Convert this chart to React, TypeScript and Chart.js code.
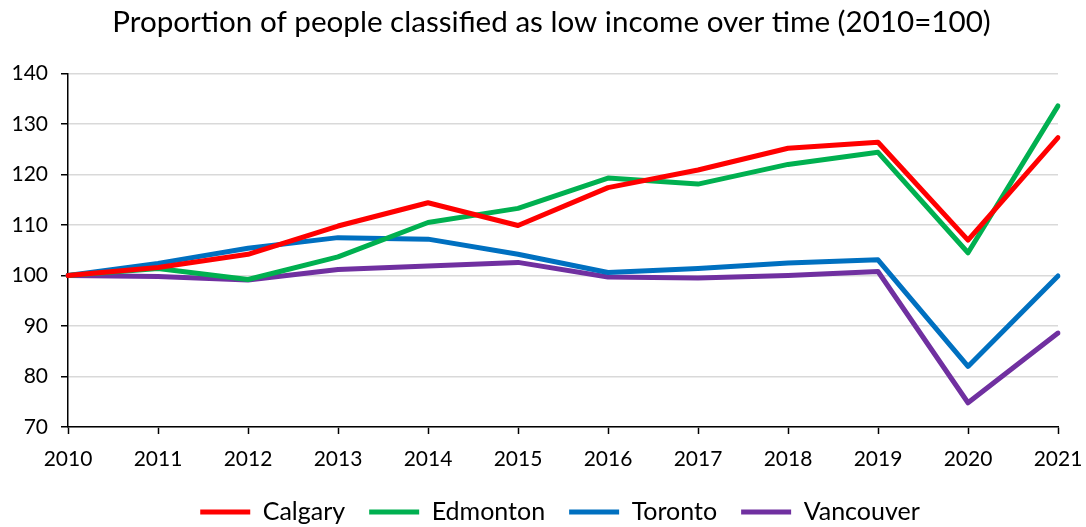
import React, { useEffect, useRef } from "react";
import { Chart, registerables } from "chart.js";

Chart.register(...registerables);

const years = ["2010","2011","2012","2013","2014","2015","2016","2017","2018","2019","2020","2021"];
const calgary = [100, 101.6, 104.2, 109.8, 114.4, 109.9, 117.4, 120.9, 125.2, 126.4, 107.0, 127.3];
const edmonton = [100, 101.4, 99.2, 103.7, 110.5, 113.3, 119.3, 118.1, 122.0, 124.4, 104.5, 133.6];
const toronto = [100, 102.4, 105.4, 107.5, 107.2, 104.2, 100.6, 101.4, 102.5, 103.1, 82.0, 99.9];
const vancouver = [100, 99.8, 99.1, 101.2, 101.9, 102.6, 99.7, 99.5, 100.0, 100.8, 74.8, 88.6];

const FONT = "Lato, 'Open Sans', sans-serif";

const shiftPlugin = {
  id: "shiftBlocks",
  afterLayout(chart: any) {
    const t = chart.titleBlock;
    if (t) { t.left += 18.5; t.right += 18.5; }
    const l = chart.legend;
    if (l) { l.left += 27; l.right += 27; }
  },
};

export default function App() {
  const ref = useRef<HTMLCanvasElement>(null);
  useEffect(() => {
    document.body.style.margin = "0";
    const ctx = ref.current!;
    const mk = (label: string, data: number[], color: string) => ({
      label,
      data,
      borderColor: color,
      backgroundColor: color,
      borderWidth: 5,
      borderCapStyle: "round" as const,
      borderJoinStyle: "round" as const,
      pointRadius: 0,
      tension: 0,
      fill: false,
    });
    const chart = new Chart(ctx, {
      type: "line",
      data: {
        labels: years,
        datasets: [
          mk("Calgary", calgary, "#FF0000"),
          mk("Edmonton", edmonton, "#00B050"),
          mk("Toronto", toronto, "#0070C0"),
          mk("Vancouver", vancouver, "#7030A0"),
        ],
      },
      plugins: [shiftPlugin],
      options: {
        animation: false,
        responsive: false,
        maintainAspectRatio: false,
        layout: { padding: { left: 8, right: 28, top: 0, bottom: -7.5 } },
        plugins: {
          title: {
            display: true,
            text: "Proportion of people classified as low income over time (2010=100)",
            color: "#000",
            font: { family: FONT, size: 29.6, weight: "normal" },
            padding: { top: 5, bottom: 33 },
          },
          legend: {
            position: "bottom",
            labels: {
              color: "#000",
              font: { family: FONT, size: 25 },
              usePointStyle: true,
              pointStyle: "line",
              pointStyleWidth: 50,
              boxHeight: 25,
              padding: 24,
            },
          },
          tooltip: { enabled: false },
        },
        scales: {
          x: {
            offset: false,
            grid: {
              display: true,
              drawOnChartArea: false,
              drawTicks: true,
              tickLength: 7,
              tickColor: "#000",
              tickWidth: 1.5,
            },
            border: { display: true, color: "#000", width: 1.5 },
            ticks: {
              color: "#000",
              font: { family: FONT, size: 21 },
              padding: 13,
              maxRotation: 0,
              autoSkip: false,
            },
            afterFit: (s: any) => { s.height = 48.5; s.paddingLeft = 0; s.paddingRight = 0; },
          },
          y: {
            min: 70,
            max: 140,
            ticks: {
              stepSize: 10,
              color: "#000",
              font: { family: FONT, size: 21 },
              padding: 13,
            },
            grid: {
              color: "#D9D9D9",
              lineWidth: 1.5,
              tickLength: 7,
              tickColor: "#000",
              tickWidth: 1.5,
            },
            border: { display: true, color: "#000", width: 1.5 },
            afterFit: (s: any) => { s.width = 60; },
          },
        },
      },
    });
    return () => chart.destroy();
  }, []);
  return (
    <div style={{ position: "absolute", left: 0, top: 0, width: 1086, height: 527 }}>
      <canvas ref={ref} width={1086} height={527} style={{ width: 1086, height: 527 }} />
    </div>
  );
}
